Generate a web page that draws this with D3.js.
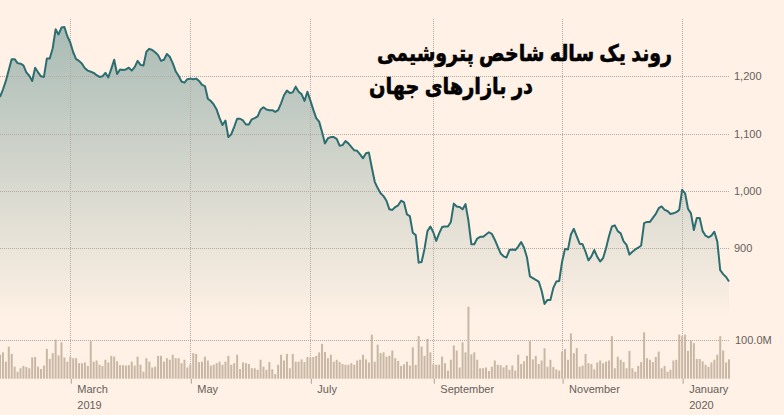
<!DOCTYPE html>
<html><head><meta charset="utf-8">
<script src="https://cdn.jsdelivr.net/npm/d3@7"></script>
<style>
html,body{margin:0;padding:0;background:#fff1e5;}
svg{display:block;}
</style></head><body>
<svg id="chart" width="784" height="415"></svg>
<script>
// Daily index closes (one per trading day)
const priceValues = [
1164,1177,1192,1211,1230,1230,1223,1222,1219,1207,
1201,1192,1215,1207,1200,1199,1231,1231,1249,1282,
1273,1285,1286,1270,1259,1242,1230,1227,1222,1214,
1210,1208,1206,1202,1199,1200,1206,1198,1213,1229,
1204,1212,1211,1212,1215,1210,1216,1227,1220,1219,
1243,1248,1246,1242,1237,1227,1229,1239,1234,1223,
1209,1201,1191,1189,1195,1196,1195,1196,1192,1185,
1183,1161,1157,1151,1142,1127,1115,1123,1094,1099,
1112,1126,1126,1123,1116,1116,1125,1127,1130,1142,
1146,1142,1141,1141,1138,1141,1153,1167,1175,1171,
1172,1182,1173,1169,1157,1173,1158,1142,1127,1121,
1103,1083,1092,1094,1094,1091,1079,1080,1087,1083,
1077,1071,1070,1064,1057,1066,1067,1041,1016,1005,
996,991,983,968,967,972,975,983,980,959,
956,927,923,875,876,899,930,938,928,913,
926,937,938,938,946,978,973,972,968,977,
948,907,907,917,920,920,924,928,925,915,
903,891,886,884,897,898,897,903,911,901,
884,851,848,845,842,826,803,810,810,831,
842,843,877,899,898,924,934,921,908,907,
894,879,886,897,885,877,883,900,921,938,
940,930,926,912,906,889,894,898,901,905,
944,946,946,953,960,970,973,967,965,960,
961,963,967,1002,996,969,961,932,953,953,
930,922,919,922,929,912,862,855,850,842
];
// Daily volume, millions
const volumeValues = [
62,68,44,83,64,31,18,27,33,30,
27,55,56,31,25,34,77,51,66,101,
60,94,55,44,57,53,53,40,40,42,
33,97,44,47,36,33,49,42,59,57,
45,35,35,34,35,44,34,57,36,18,
53,44,29,31,59,59,44,53,49,62,
53,53,40,49,29,37,66,64,43,44,
57,47,34,36,40,44,36,44,59,36,
40,62,25,42,40,38,27,27,23,49,
31,23,43,24,12,36,62,47,64,27,
64,44,44,50,43,56,55,56,59,68,
90,69,53,62,44,49,43,38,36,36,
40,36,47,49,62,50,42,114,44,88,
66,68,57,59,73,53,46,33,37,44,
34,81,36,110,83,59,103,68,37,36,
36,57,40,21,49,86,73,29,94,68,
186,63,68,49,27,27,29,20,31,47,
36,35,29,35,23,34,21,62,38,45,
59,97,50,59,38,47,79,31,49,30,
24,21,70,77,49,117,66,79,31,34,
64,40,38,24,42,47,40,44,47,110,
27,57,49,43,27,72,27,18,33,43,
120,53,49,43,56,70,27,33,18,23,
47,49,114,110,114,72,99,92,51,51,
45,36,31,42,49,62,110,73,42,50
];
const monthTickIndex = [24, 65, 106, 148, 192, 233];
const monthTickLabels = ["March", "May", "July", "September", "November", "January"];
const monthTickYears = ["2019", "", "", "", "", "2020"];
const priceTicks = [900, 1000, 1100, 1200];
const volumeTicks = [100];
const titleLines = ["روند یک ساله شاخص پتروشیمی", "در بازارهای جهان"];

const W = 784, H = 415;
const BG = "#fff1e5", LINE = "#2c6e70", GRID = "#b3aaa1", TXT = "#66605c";
const FONT = "Arial, 'Liberation Sans', 'DejaVu Sans', sans-serif";

const svg = d3.select("#chart");
svg.append("rect").attr("width", W).attr("height", H).attr("fill", BG);

const x = d3.scaleLinear().domain([0, priceValues.length - 1]).range([0, 729]);
const y = d3.scaleLinear().domain([780, 1300]).range([317.1, 19]);
const yv = d3.scaleLinear().domain([0, 200]).range([378.7, 301.3]);
const gridRight = 730;

// gradient
const defs = svg.append("defs");
const grad = defs.append("linearGradient").attr("id", "areaGrad")
  .attr("gradientUnits", "userSpaceOnUse")
  .attr("x1", 0).attr("x2", 0).attr("y1", y(1300)).attr("y2", y(775));
grad.append("stop").attr("offset", 0).attr("stop-color", LINE).attr("stop-opacity", 0.42);
grad.append("stop").attr("offset", 1).attr("stop-color", LINE).attr("stop-opacity", 0);

// area
const area = d3.area().x((d, i) => x(i)).y0(y(780)).y1(d => y(d));
svg.append("path").datum(priceValues).attr("d", area).attr("fill", "url(#areaGrad)");

// gridlines
const grid = svg.append("g").attr("stroke", GRID).attr("stroke-width", 1).attr("stroke-dasharray", "1,1");
grid.selectAll(".hg").data(priceTicks).join("line")
  .attr("x1", 0).attr("x2", gridRight)
  .attr("y1", d => Math.round(y(d)) + 0.5).attr("y2", d => Math.round(y(d)) + 0.5);
grid.selectAll(".vg").data(volumeTicks).join("line")
  .attr("x1", 0).attr("x2", gridRight)
  .attr("y1", d => Math.round(yv(d)) + 0.5).attr("y2", d => Math.round(yv(d)) + 0.5);
grid.selectAll(".xg").data(monthTickIndex).join("line")
  .attr("x1", d => Math.round(x(d)) + 0.5).attr("x2", d => Math.round(x(d)) + 0.5)
  .attr("y1", 19).attr("y2", yv(0));

// volume bars
svg.append("g").selectAll("rect").data(volumeValues).join("rect")
  .attr("x", (d, i) => x(i) - 1).attr("width", 2)
  .attr("y", d => yv(d)).attr("height", d => yv(0) - yv(d))
  .attr("fill", "#c9b7a5");

// price line
const line = d3.line().x((d, i) => x(i)).y(d => y(d));
svg.append("path").datum(priceValues).attr("d", line)
  .attr("fill", "none").attr("stroke", LINE).attr("stroke-width", 2)
  .attr("stroke-linejoin", "round");

// y axis (price)
const yAxis = svg.append("g").attr("transform", "translate(734,0)")
  .call(d3.axisRight(y).tickValues(priceTicks).tickSize(0).tickPadding(0).tickFormat(d3.format(",")));
yAxis.select(".domain").remove();
yAxis.selectAll("text").attr("fill", TXT).attr("font-size", 11).attr("font-family", FONT);

// volume axis
const vAxis = svg.append("g").attr("transform", "translate(735,0)")
  .call(d3.axisRight(yv).tickValues(volumeTicks).tickSize(0).tickPadding(0).tickFormat(d => d3.format(".1f")(d) + "M"));
vAxis.select(".domain").remove();
vAxis.selectAll("text").attr("fill", TXT).attr("font-size", 11).attr("font-family", FONT);

// x axis
const xAxis = svg.append("g").attr("transform", `translate(0,${yv(0)})`)
  .call(d3.axisBottom(x).tickValues(monthTickIndex).tickSize(5).tickFormat((d, i) => monthTickLabels[i]));
xAxis.select(".domain").remove();
xAxis.selectAll(".tick line").attr("stroke", "#a9a098").attr("transform", "translate(0.5,0)");
xAxis.selectAll(".tick text")
  .attr("fill", TXT).attr("font-size", 11).attr("font-family", FONT)
  .attr("text-anchor", "start").attr("x", 6.5).attr("y", 14.8).attr("dy", 0)
  .each(function(d, i) {
    if (monthTickYears[i]) {
      d3.select(this).append("tspan").attr("x", 6.5).attr("dy", 15.6).text(monthTickYears[i]);
    }
  });

// title
const title = svg.append("g").attr("font-family", FONT).attr("font-weight", "bold")
  .attr("font-size", 23).attr("fill", "#000").attr("stroke", "#000").attr("stroke-width", 0.6);
title.append("text").attr("x", 672).attr("y", 61).attr("text-anchor", "end")
  .attr("textLength", 295).attr("lengthAdjust", "spacingAndGlyphs").text(titleLines[0]);
title.append("text").attr("x", 533).attr("y", 94).attr("text-anchor", "end")
  .attr("textLength", 164).attr("lengthAdjust", "spacingAndGlyphs").text(titleLines[1]);
</script>
</body></html>
